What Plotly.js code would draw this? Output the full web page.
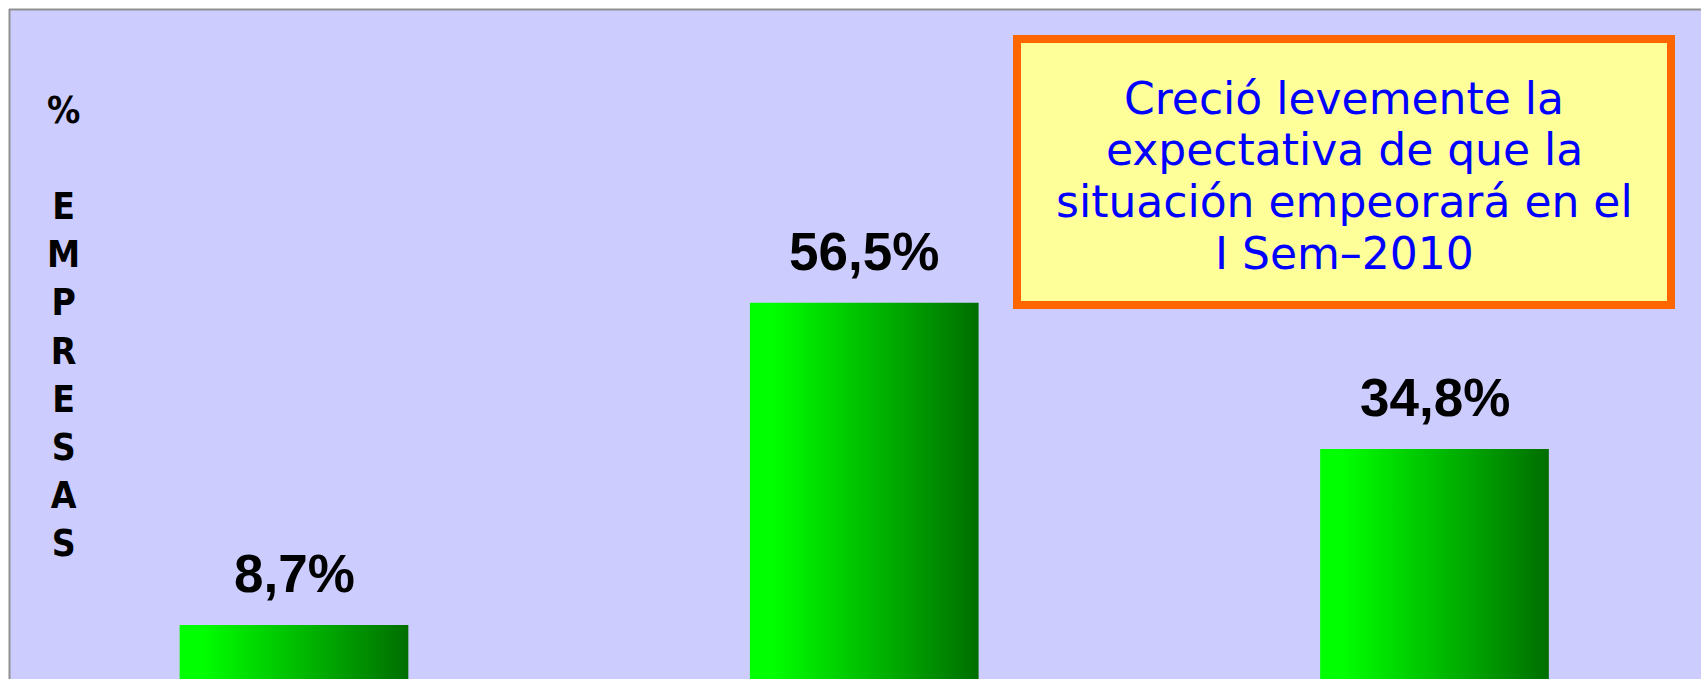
<!DOCTYPE html>
<html>
<head>
<meta charset="utf-8">
<script src="https://cdn.plot.ly/plotly-3.0.1.min.js"></script>
<style>
  html, body { margin: 0; padding: 0; background: #ffffff; }
  #chart { width: 1701px; height: 679px; }
</style>
</head>
<body>
<div id="chart"></div>
<script>
// ---- data ----
const categories = ['Mejorará', 'Seguirá igual', 'Empeorará'];
const values = [8.7, 56.5, 34.8];
const valueLabels = ['8,7%', '56,5%', '34,8%'];
const yTitleChars = ['%', '', 'E', 'M', 'P', 'R', 'E', 'S', 'A', 'S'];
const noteLines = ['Creció levemente la', 'expectativa de que la', 'situación empeorará en el', 'I Sem–2010'];

// ---- layout helpers (pixel -> paper) ----
const W = 1701, H = 679, ML = 10, MT = 10, MR = 0, MB = 0;
const PW = W - ML - MR, PH = H - MT - MB;
const px = x => (x - ML) / PW;
const py = y => (H - MB - y) / PH;

const trace = {
  type: 'bar',
  x: categories,
  y: values,
  width: 0.401,
  marker: { color: '#00c000', line: { width: 0 } },
  hoverinfo: 'skip'
};

const annotations = [];
values.forEach((v, i) => {
  annotations.push({
    xref: 'x', yref: 'y', x: categories[i], y: v,
    xanchor: 'center', yanchor: 'bottom', yshift: 20,
    text: valueLabels[i], showarrow: false,
    font: { family: 'Liberation Sans, Arial, sans-serif', size: 53, color: '#000000', weight: 'bold' }
  });
});
annotations.push({
  xref: 'paper', yref: 'paper', x: px(63), y: py(326.5),
  xanchor: 'center', yanchor: 'middle',
  text: yTitleChars.join('<br>'), showarrow: false,
  font: { family: 'DejaVu Sans Condensed, DejaVu Sans, sans-serif', size: 37, color: '#000000', weight: 'bold' }
});
const lineCenters = [98, 149.7, 201.3, 253];
noteLines.forEach((t, i) => {
  annotations.push({
    xref: 'paper', yref: 'paper', x: px(1344), y: py(lineCenters[i]),
    xanchor: 'center', yanchor: 'middle',
    text: t, showarrow: false,
    font: { family: 'DejaVu Sans, Verdana, sans-serif', size: 44, color: '#0000ff' }
  });
});

const shapes = [
  { type: 'rect', xref: 'paper', yref: 'paper', x0: px(1017), x1: px(1671), y0: py(305), y1: py(39),
    line: { color: '#ff6600', width: 8 }, fillcolor: '#ffff99', layer: 'above' },
  { type: 'line', xref: 'paper', yref: 'paper', x0: px(9.5), x1: px(9.5), y0: 0, y1: py(9),
    line: { color: '#909090', width: 2 } },
  { type: 'line', xref: 'paper', yref: 'paper', x0: px(9), x1: 1, y0: py(9.5), y1: py(9.5),
    line: { color: '#909090', width: 2 } }
];

const layout = {
  width: W, height: H,
  margin: { l: ML, r: MR, t: MT, b: MB, pad: 0 },
  paper_bgcolor: '#ffffff',
  plot_bgcolor: '#ccccff',
  showlegend: false,
  xaxis: { type: 'category', range: [(ML - 294) / 570.25, (W - MR - 294) / 570.25],
           showticklabels: false, showgrid: false, zeroline: false, showline: false, ticks: '' },
  yaxis: { range: [0.7, 99.9], showticklabels: false, showgrid: false, zeroline: false, showline: false, ticks: '' },
  shapes: shapes,
  annotations: annotations
};

Plotly.newPlot('chart', [trace], layout, { staticPlot: true, displayModeBar: false }).then(gd => {
  const svg = gd.querySelector('.main-svg');
  const NS = 'http://www.w3.org/2000/svg';
  let defs = svg.querySelector('defs');
  if (!defs) { defs = document.createElementNS(NS, 'defs'); svg.insertBefore(defs, svg.firstChild); }
  const grad = document.createElementNS(NS, 'linearGradient');
  grad.setAttribute('id', 'barGrad');
  grad.setAttribute('x1', '0'); grad.setAttribute('y1', '0');
  grad.setAttribute('x2', '1'); grad.setAttribute('y2', '0');
  [['0', '#00ff00'], ['0.1', '#00ff00'], ['1', '#006e00']].forEach(([o, c]) => {
    const s = document.createElementNS(NS, 'stop');
    s.setAttribute('offset', o); s.setAttribute('stop-color', c);
    grad.appendChild(s);
  });
  defs.appendChild(grad);
  gd.querySelectorAll('.bars .point path').forEach(p => { p.style.fill = 'url(#barGrad)'; });
});
</script>
</body>
</html>
